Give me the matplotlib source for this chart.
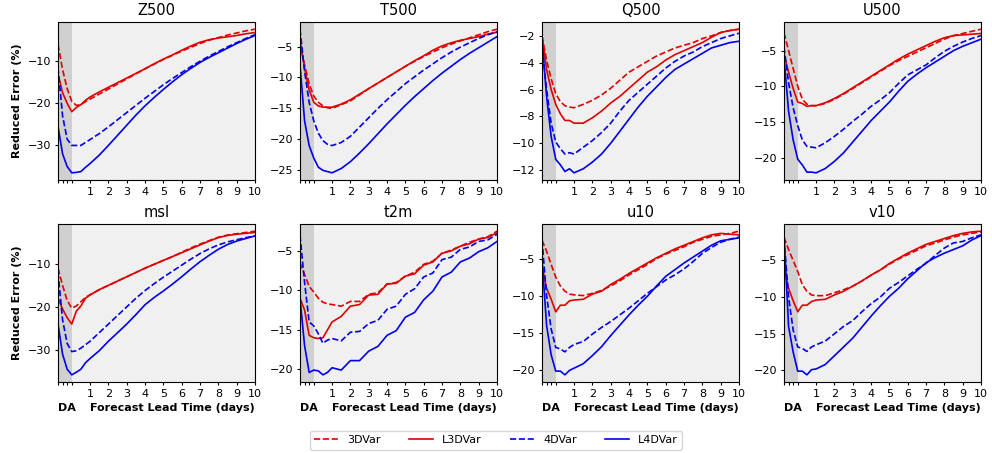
import matplotlib
matplotlib.use("Agg")
import matplotlib.pyplot as plt
import numpy as np

# lead times (days); DA window -0.75..0, forecasts 0..10
lead = [-0.75, -0.5, -0.25, 0.0, 0.25, 0.5, 0.75, 1.0, 1.5, 2.0, 2.5, 3.0, 3.5, 4.0,
        4.5, 5.0, 5.5, 6.0, 6.5, 7.0, 7.5, 8.0, 8.5, 9.0, 9.5, 10.0]

variables = ["Z500", "T500", "Q500", "U500", "msl", "t2m", "u10", "v10"]
methods = ["3DVar", "L3DVar", "4DVar", "L4DVar"]

z500_3dvar = [-6, -12, -16.5, -19.5, -20.5, -20.3, -19.6, -19.0, -17.8, -16.6, -15.4, -14.2, -13.0, -11.8, -10.7, -9.6, -8.6, -7.6, -6.7, -5.8, -5.0, -4.4, -3.8, -3.3, -2.8, -2.4]
z500_l3dvar = [-13, -17.5, -20, -22, -21, -20.3, -19.3, -18.5, -17.3, -16.2, -15.1, -14.0, -12.9, -11.8, -10.6, -9.5, -8.5, -7.4, -6.4, -5.5, -4.9, -4.5, -4.2, -3.9, -3.5, -3.2]
z500_4dvar = [-11.5, -23, -28.5, -30, -30, -30, -29.3, -28.6, -27.2, -25.6, -23.9, -22.2, -20.5, -18.8, -17.2, -15.6, -14.1, -12.7, -11.3, -10.0, -8.8, -7.7, -6.6, -5.6, -4.6, -3.7]
z500_l4dvar = [-25.5, -32, -35, -36.5, -36.4, -36.2, -35.2, -34.3, -32.3, -30, -27.6, -25.2, -22.8, -20.6, -18.6, -16.7, -14.9, -13.2, -11.7, -10.3, -9.1, -8.0, -6.9, -5.8, -4.8, -3.9]

t500_3dvar = [-4.5, -8, -11, -13, -14, -14.6, -14.9, -15, -14.4, -13.8, -12.8, -11.8, -10.9, -10, -9.1, -8.2, -7.4, -6.6, -5.9, -5.2, -4.6, -4.1, -3.6, -3.1, -2.6, -2.2]
t500_l3dvar = [-4, -8.5, -12, -14, -14.6, -14.8, -14.8, -14.8, -14.3, -13.6, -12.7, -11.8, -10.9, -10, -9.1, -8.2, -7.3, -6.5, -5.6, -4.9, -4.4, -4.0, -3.7, -3.4, -3.0, -2.7]
t500_4dvar = [-2.2, -9, -14, -17, -19, -20.2, -20.8, -21, -20.5, -19.5, -18, -16.5, -15, -13.6, -12.3, -11, -9.9, -8.8, -7.8, -6.8, -5.9, -5.1, -4.4, -3.7, -3.1, -2.6]
t500_l4dvar = [-8, -17, -21, -23, -24.5, -25, -25.2, -25.4, -24.7, -23.6, -22.2, -20.7, -19.1, -17.5, -16, -14.5, -13.1, -11.8, -10.5, -9.3, -8.2, -7.1, -6.1, -5.2, -4.3, -3.4]

q500_3dvar = [-2.0, -3.8, -5.2, -6.3, -6.9, -7.2, -7.3, -7.35, -7.1, -6.8, -6.4, -5.9, -5.3, -4.7, -4.3, -3.9, -3.5, -3.2, -2.9, -2.7, -2.5, -2.2, -2.0, -1.75, -1.6, -1.5]
q500_l3dvar = [-2.0, -4.5, -6.0, -7.1, -7.8, -8.3, -8.3, -8.5, -8.5, -8.1, -7.6, -7.0, -6.5, -5.9, -5.3, -4.7, -4.3, -3.8, -3.4, -3.1, -2.8, -2.5, -2.1, -1.75, -1.6, -1.5]
q500_4dvar = [-2.8, -6.0, -8.5, -9.9, -10.4, -10.8, -10.7, -10.8, -10.3, -9.8, -9.2, -8.5, -7.6, -6.8, -6.2, -5.6, -5.0, -4.4, -3.9, -3.5, -3.2, -2.8, -2.5, -2.2, -2.0, -1.8]
q500_l4dvar = [-2.3, -6.5, -9.5, -11.2, -11.6, -12.1, -11.9, -12.2, -11.9, -11.4, -10.8, -10.0, -9.1, -8.2, -7.3, -6.5, -5.8, -5.1, -4.5, -4.1, -3.7, -3.3, -2.9, -2.7, -2.5, -2.4]

u500_3dvar = [-2.5, -5, -7.5, -10.0, -11.8, -12.5, -12.7, -12.7, -12.4, -11.8, -11.1, -10.3, -9.5, -8.7, -7.9, -7.1, -6.4, -5.8, -5.2, -4.6, -4.0, -3.4, -2.9, -2.6, -2.3, -2.0]
u500_l3dvar = [-5.5, -8, -10.3, -12.2, -12.4, -12.8, -12.7, -12.7, -12.3, -11.7, -11.0, -10.2, -9.4, -8.6, -7.8, -7.0, -6.2, -5.5, -4.9, -4.3, -3.7, -3.2, -2.9, -2.8, -2.7, -2.6]
u500_4dvar = [-4.5, -9.5, -13, -15.5, -17.5, -18.4, -18.5, -18.6, -17.9, -17.0, -16.0, -14.9, -13.9, -12.8, -11.9, -10.9, -9.6, -8.4, -7.7, -7.0, -6.0, -5.1, -4.4, -3.8, -3.3, -2.9]
u500_l4dvar = [-6, -13.5, -17.5, -20.2, -21, -22.0, -22.0, -22.1, -21.5, -20.5, -19.3, -17.8, -16.3, -14.8, -13.5, -12.2, -10.7, -9.3, -8.3, -7.4, -6.6, -5.8, -5.0, -4.4, -3.9, -3.4]

msl_3dvar = [-11, -15, -18.5, -20.3, -19.8, -18.8, -17.8, -17.2, -16.0, -15.0, -14.0, -13.0, -12.0, -11.0, -10.1, -9.2, -8.3, -7.3, -6.3, -5.4, -4.6, -3.8, -3.3, -3.0, -2.7, -2.4]
msl_l3dvar = [-18, -20.5, -22.5, -24.0, -21, -19.8, -18, -17.2, -16.0, -15.0, -14.0, -13.0, -12.0, -11.0, -10.1, -9.2, -8.3, -7.4, -6.5, -5.6, -4.7, -3.9, -3.4, -3.1, -2.9, -2.7]
msl_4dvar = [-12, -23, -28.5, -30.4, -30.2, -29.6, -28.8, -28, -26, -24, -22, -20, -18, -16.2, -14.6, -13.1, -11.7, -10.3, -8.9, -7.6, -6.5, -5.6, -4.9, -4.4, -3.9, -3.5]
msl_l4dvar = [-24, -31, -34.5, -35.8, -35.2, -34.5, -33, -32, -30.2, -28, -26, -24, -21.8, -19.5, -17.8, -16.3, -14.7, -13.0, -11.2, -9.5, -8.0, -6.6, -5.5, -4.7, -4.1, -3.5]

t2m_3dvar = [-6.5, -8, -9.5, -10.2, -11, -11.5, -11.7, -11.8, -12.0, -11.4, -11.4, -10.5, -10.3, -9.2, -9.0, -8.2, -7.7, -6.7, -6.3, -5.3, -4.9, -4.4, -3.9, -3.5, -3.2, -2.5]
t2m_l3dvar = [-11, -12.5, -15.7, -16, -16.1, -16.0, -15, -14.0, -13.3, -12.0, -11.8, -10.6, -10.5, -9.2, -9.1, -8.2, -7.9, -6.8, -6.4, -5.3, -5.0, -4.4, -4.1, -3.5, -3.3, -2.7]
t2m_4dvar = [-3, -9, -14, -14.5, -15.5, -16.7, -16.3, -16.1, -16.4, -15.3, -15.2, -14.2, -13.8, -12.4, -12.0, -10.5, -9.8, -8.3, -7.8, -6.1, -5.8, -4.8, -4.5, -3.8, -3.6, -2.9]
t2m_l4dvar = [-11, -17, -20.4, -20.1, -20.2, -20.7, -20.4, -19.8, -20.1, -18.9, -18.9, -17.7, -17.1, -15.7, -15.1, -13.4, -12.8, -11.2, -10.1, -8.3, -7.7, -6.4, -5.9, -5.1, -4.6, -3.8]

u10_3dvar = [-2.5, -4, -5.8, -7.5, -8.7, -9.4, -9.8, -9.9, -10.0, -9.7, -9.3, -8.7, -8.0, -7.2, -6.5, -5.8, -5.0, -4.4, -3.9, -3.4, -2.8, -2.4, -2.0, -1.8, -1.6, -1.3]
u10_l3dvar = [-6, -9, -10.5, -12.2, -11.3, -11.3, -10.7, -10.6, -10.5, -9.8, -9.4, -8.5, -7.8, -7.0, -6.3, -5.6, -4.9, -4.3, -3.7, -3.2, -2.7, -2.2, -1.8, -1.6, -1.7, -1.8]
u10_4dvar = [-2.5, -10, -14.5, -17, -17.2, -17.6, -17.0, -16.6, -16.2, -15.2, -14.3, -13.5, -12.6, -11.7, -10.7, -9.7, -8.8, -7.9, -7.2, -6.4, -5.4, -4.3, -3.5, -2.8, -2.4, -2.1]
u10_l4dvar = [-5, -14, -18, -20.2, -20.2, -20.7, -20.1, -19.8, -19.2, -18.1, -16.9, -15.4, -14.0, -12.6, -11.3, -10.1, -8.7, -7.4, -6.5, -5.6, -4.8, -4.0, -3.2, -2.6, -2.4, -2.2]

v10_3dvar = [-1.8, -3.5, -5, -6.5, -8.3, -9.2, -9.7, -9.8, -9.8, -9.4, -9.0, -8.5, -7.8, -7.0, -6.3, -5.5, -4.8, -4.2, -3.6, -3.0, -2.6, -2.2, -1.8, -1.5, -1.3, -1.1]
v10_l3dvar = [-6, -8.8, -10.5, -12.0, -11.1, -11.1, -10.6, -10.4, -10.3, -9.7, -9.2, -8.5, -7.8, -7.0, -6.3, -5.4, -4.7, -4.0, -3.4, -2.8, -2.4, -2.0, -1.6, -1.3, -1.1, -1.0]
v10_4dvar = [-2, -10, -14.5, -16.8, -17.0, -17.4, -16.8, -16.5, -16.0, -15.0, -14.0, -13.2, -12.0, -10.9, -10.0, -8.8, -8.0, -7.1, -6.2, -5.4, -4.3, -3.3, -2.6, -2.4, -1.9, -1.5]
v10_l4dvar = [-1.5, -14, -17.5, -20.1, -20.1, -20.6, -19.9, -19.8, -19.2, -18.0, -16.8, -15.6, -14.1, -12.6, -11.2, -9.9, -8.8, -7.5, -6.4, -5.3, -4.6, -4.0, -3.5, -3.0, -2.2, -1.6]

series = {
    "Z500": [z500_3dvar, z500_l3dvar, z500_4dvar, z500_l4dvar],
    "T500": [t500_3dvar, t500_l3dvar, t500_4dvar, t500_l4dvar],
    "Q500": [q500_3dvar, q500_l3dvar, q500_4dvar, q500_l4dvar],
    "U500": [u500_3dvar, u500_l3dvar, u500_4dvar, u500_l4dvar],
    "msl": [msl_3dvar, msl_l3dvar, msl_4dvar, msl_l4dvar],
    "t2m": [t2m_3dvar, t2m_l3dvar, t2m_4dvar, t2m_l4dvar],
    "u10": [u10_3dvar, u10_l3dvar, u10_4dvar, u10_l4dvar],
    "v10": [v10_3dvar, v10_l3dvar, v10_4dvar, v10_l4dvar],
}

yticks = {
    "Z500": [-30, -20, -10], "T500": [-25, -20, -15, -10, -5],
    "Q500": [-12, -10, -8, -6, -4, -2], "U500": [-20, -15, -10, -5],
    "msl": [-30, -20, -10], "t2m": [-20, -15, -10, -5],
    "u10": [-20, -15, -10, -5], "v10": [-20, -15, -10, -5],
}

xtick_pos = [-0.75, -0.5, -0.25, 0, 1, 2, 3, 4, 5, 6, 7, 8, 9, 10]
xtick_lab = ["", "", "", "", "1", "2", "3", "4", "5", "6", "7", "8", "9", "10"]

colors = ["#e00000", "#e00000", "#0000ee", "#0000ee"]
styles = ["--", "-", "--", "-"]

fig = plt.figure(figsize=(9.92, 4.53), dpi=100)
lefts = [58, 300, 542, 784]
w = 197
rows = [(22, 180), (224, 382)]
W, H = 992, 453
axes = []
for i, var in enumerate(variables):
    r, c = divmod(i, 4)
    top, bot = rows[r]
    ax = fig.add_axes([lefts[c] / W, 1 - bot / H, w / W, (bot - top) / H])
    ax.set_facecolor("#f0f0f0")
    ax.axvspan(-0.75, 0, color="#d0d0d0", zorder=0, lw=0)
    for m, col, ls, vals in zip(methods, colors, styles, series[var]):
        ax.plot(lead, vals, color=col, ls=ls, lw=1.2, label=m)
    ax.set_xlim(-0.75, 10)
    ax.set_xticks(xtick_pos)
    ax.set_xticklabels(xtick_lab)
    ax.set_yticks(yticks[var])
    ax.tick_params(labelsize=8, length=2.5, pad=2.5)
    ax.set_title(var, fontsize=10.5, pad=5)
    if c == 0:
        ax.set_ylabel("Reduced Error (%)", fontsize=8, fontweight="bold", labelpad=4)
    if r == 1:
        trans = ax.get_xaxis_transform()
        ax.text(-0.75, -0.13, "DA", transform=trans, ha="left", va="top",
                fontsize=8, fontweight="bold")
        ax.text(10, -0.13, "Forecast Lead Time (days)", transform=trans, ha="right",
                va="top", fontsize=8, fontweight="bold")
    axes.append(ax)

handles, labels = axes[0].get_legend_handles_labels()
fig.legend(handles, labels, loc="lower center", bbox_to_anchor=(0.5, -0.005), ncol=4,
           fontsize=8, handlelength=2.2, columnspacing=2.5, frameon=True)

fig.savefig("out.png", dpi=100)
